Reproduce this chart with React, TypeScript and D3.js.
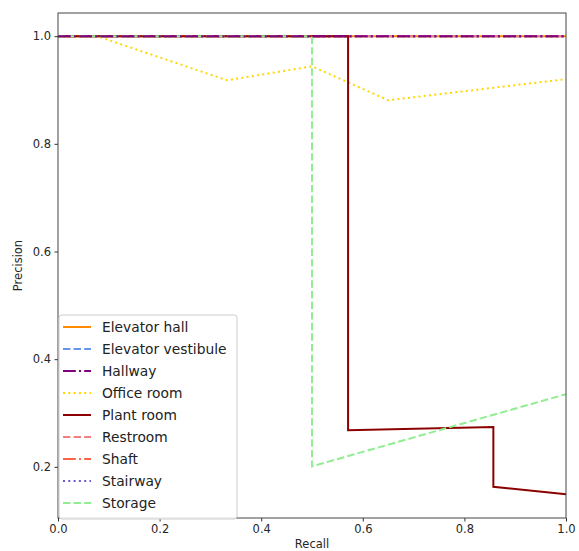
import React, { useEffect, useRef } from "react";
import * as d3 from "d3";

// precision-recall curves per room class
const classNames = [
  "Elevator hall",
  "Elevator vestibule",
  "Hallway",
  "Office room",
  "Plant room",
  "Restroom",
  "Shaft",
  "Stairway",
  "Storage",
];
const classColors = [
  "#ff8c00",
  "#6495ed",
  "#800080",
  "#ffd700",
  "#8b0000",
  "#f08080",
  "#ff6347",
  "#6a5acd",
  "#90ee90",
];
const classDashes = ["", "7.4,3.2", "12.8,3.2,2,3.2", "2,3.3", "", "7.4,3.2", "12.8,3.2,2,3.2", "2,3.3", "7.4,3.2"];

const recallValues = [
  [0, 1],
  [0, 1],
  [0, 1],
  [0, 0.077, 0.333, 0.5, 0.65, 1],
  [0, 0.571, 0.571, 0.857, 0.857, 1],
  [0, 1],
  [0, 1],
  [0, 1],
  [0, 0.5, 0.5, 1],
];
const precisionValues = [
  [1, 1],
  [1, 1],
  [1, 1],
  [1, 1, 0.918, 0.944, 0.881, 0.92],
  [1, 1, 0.268, 0.274, 0.163, 0.149],
  [1, 1],
  [1, 1],
  [1, 1],
  [1, 1, 0.201, 0.335],
];
// order the lines are painted in (hallway ends up on top)
const drawOrder = [0, 1, 5, 6, 7, 3, 4, 8, 2];

const xTicks = [0, 0.2, 0.4, 0.6, 0.8, 1.0];
const yTicks = [0.2, 0.4, 0.6, 0.8, 1.0];

export default function App() {
  const ref = useRef<SVGSVGElement>(null);

  useEffect(() => {
    const width = 579;
    const height = 551;
    const margin = { top: 13, left: 58, bottom: 33, right: 13 };

    const svg = d3.select(ref.current);
    svg.selectAll("*").remove();

    const x = d3.scaleLinear().domain([0, 1]).range([margin.left, width - margin.right]);
    const y = d3.scaleLinear().domain([0.105, 1.043]).range([height - margin.bottom, margin.top]);

    const font = "DejaVu Sans, sans-serif";

    const xAxis = svg
      .append("g")
      .attr("transform", `translate(0,${height - margin.bottom})`)
      .call(d3.axisBottom(x).tickValues(xTicks).tickSize(3.5).tickPadding(3.5).tickFormat(d3.format(".1f")));
    const yAxis = svg
      .append("g")
      .attr("transform", `translate(${margin.left},0)`)
      .call(d3.axisLeft(y).tickValues(yTicks).tickSize(3.5).tickPadding(3.5).tickFormat(d3.format(".1f")));
    [xAxis, yAxis].forEach((a) => {
      a.select(".domain").remove();
      a.selectAll("line").attr("stroke", "#333");
      a.selectAll("text").attr("font-family", font).attr("font-size", 11.5).attr("fill", "#262626");
    });

    const line = d3
      .line<[number, number]>()
      .x((d) => x(d[0]))
      .y((d) => y(d[1]));

    const plot = svg.append("g");
    drawOrder.forEach((i) => {
      const pts = recallValues[i].map((r, k) => [r, precisionValues[i][k]] as [number, number]);
      plot
        .append("path")
        .attr("d", line(pts))
        .attr("fill", "none")
        .attr("stroke", classColors[i])
        .attr("stroke-width", 2)
        .attr("stroke-dasharray", classDashes[i] || null);
    });

    // frame
    svg
      .append("rect")
      .attr("x", margin.left)
      .attr("y", margin.top)
      .attr("width", width - margin.left - margin.right)
      .attr("height", height - margin.top - margin.bottom)
      .attr("fill", "none")
      .attr("stroke", "#444")
      .attr("stroke-width", 1);

    // legend
    const lx = margin.left + 2;
    const ly = 315;
    const rowH = 22;
    const legend = svg.append("g");
    legend
      .append("rect")
      .attr("x", lx - 1)
      .attr("y", ly)
      .attr("width", 178)
      .attr("height", height - margin.bottom - ly + 1)
      .attr("rx", 3)
      .attr("fill", "white")
      .attr("fill-opacity", 0.85)
      .attr("stroke", "#ccc");
    classNames.forEach((name, i) => {
      const cy = ly + 12 + i * rowH;
      legend
        .append("line")
        .attr("x1", lx + 3)
        .attr("x2", lx + 31)
        .attr("y1", cy)
        .attr("y2", cy)
        .attr("stroke", classColors[i])
        .attr("stroke-width", 2)
        .attr("stroke-dasharray", classDashes[i] || null);
      legend
        .append("text")
        .attr("x", lx + 42)
        .attr("y", cy)
        .attr("dy", "0.35em")
        .attr("font-family", font)
        .attr("font-size", 13.8)
        .attr("fill", "#222")
        .text(name);
    });

    // axis labels
    svg
      .append("text")
      .attr("x", x(0.5))
      .attr("y", height - 3)
      .attr("text-anchor", "middle")
      .attr("font-family", font)
      .attr("font-size", 11.5)
      .attr("fill", "#262626")
      .text("Recall");
    svg
      .append("text")
      .attr("transform", `translate(22,${(margin.top + height - margin.bottom) / 2}) rotate(-90)`)
      .attr("text-anchor", "middle")
      .attr("font-family", font)
      .attr("font-size", 11.5)
      .attr("fill", "#262626")
      .text("Precision");
  }, []);

  return (
    <svg
      ref={ref}
      width={579}
      height={551}
      style={{ position: "absolute", left: 0, top: 0, background: "white" }}
    />
  );
}
